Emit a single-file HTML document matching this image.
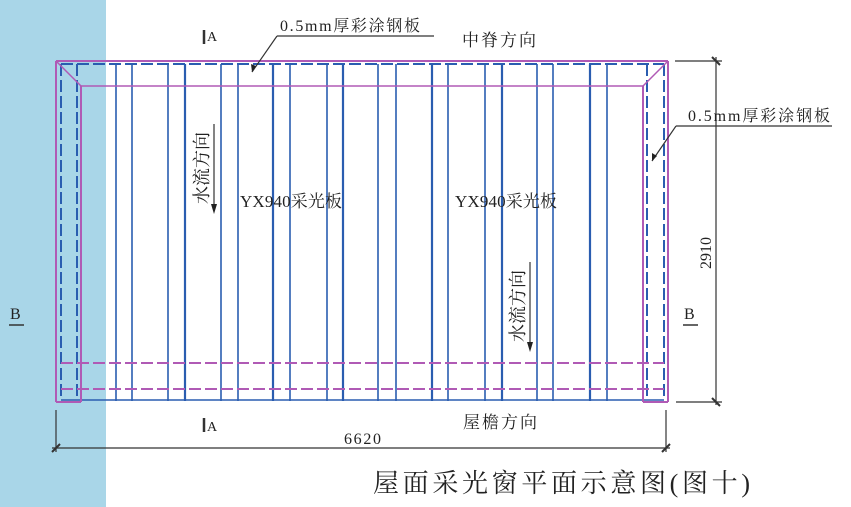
<!DOCTYPE html>
<html><head><meta charset="utf-8"><style>
html,body{margin:0;padding:0;background:#fff;}
svg{display:block;}
text{font-family:"Liberation Serif","Noto Serif CJK SC","Noto Sans CJK SC",serif;fill:#222;}
</style></head><body>
<svg width="851" height="507" viewBox="0 0 851 507" xmlns="http://www.w3.org/2000/svg">
<rect x="0" y="0" width="106" height="507" fill="#a9d6e8"/>
<g stroke="#2a5db0" stroke-width="1.6">
<line x1="116" y1="64" x2="116" y2="401"/><line x1="132" y1="64" x2="132" y2="401"/>
<line x1="168" y1="64" x2="168" y2="401"/><line x1="185" y1="64" x2="185" y2="401" stroke-width="2.2"/>
<line x1="221" y1="64" x2="221" y2="401"/><line x1="238" y1="64" x2="238" y2="401"/>
<line x1="273" y1="64" x2="273" y2="401" stroke-width="2.2"/><line x1="290" y1="64" x2="290" y2="401"/>
<line x1="327" y1="64" x2="327" y2="401"/><line x1="343" y1="64" x2="343" y2="401" stroke-width="2.2"/>
<line x1="378" y1="64" x2="378" y2="401"/><line x1="396" y1="64" x2="396" y2="401"/>
<line x1="432" y1="64" x2="432" y2="401" stroke-width="2.2"/><line x1="448" y1="64" x2="448" y2="401"/>
<line x1="485" y1="64" x2="485" y2="401"/><line x1="502" y1="64" x2="502" y2="401" stroke-width="2.2"/>
<line x1="537" y1="64" x2="537" y2="401"/><line x1="553" y1="64" x2="553" y2="401"/>
<line x1="590" y1="64" x2="590" y2="401" stroke-width="2.2"/><line x1="607" y1="64" x2="607" y2="401"/>
<line x1="61" y1="400" x2="664" y2="400"/>
</g>
<g stroke="#2a5db0" stroke-width="2" stroke-dasharray="12,4" fill="none">
<line x1="61" y1="64" x2="664" y2="64"/>
<line x1="61" y1="64" x2="61" y2="400"/><line x1="77" y1="64" x2="77" y2="400"/>
<line x1="647" y1="64" x2="647" y2="400"/><line x1="664" y1="64" x2="664" y2="400"/>
</g>
<g stroke="#b05ab5" stroke-width="2" fill="none">
<line x1="56" y1="61" x2="668" y2="61"/>
<line x1="56" y1="61" x2="56" y2="402"/><line x1="81" y1="86" x2="81" y2="402"/>
<line x1="56" y1="402" x2="81" y2="402"/>
<line x1="643" y1="86" x2="643" y2="402"/><line x1="668" y1="61" x2="668" y2="402"/>
<line x1="643" y1="402" x2="668" y2="402"/>
<line x1="81" y1="86" x2="643" y2="86" stroke-width="1.5"/>
<line x1="56" y1="61" x2="81" y2="86" stroke-width="1.5"/>
<line x1="668" y1="61" x2="643" y2="86" stroke-width="1.5"/>
<line x1="61" y1="363" x2="664" y2="363" stroke-dasharray="12,4"/>
<line x1="61" y1="389" x2="664" y2="389" stroke-dasharray="12,4"/>
</g>
<g stroke="#333" stroke-width="1.2" fill="none">
<line x1="675" y1="61" x2="722" y2="61"/>
<line x1="676" y1="402" x2="722" y2="402"/>
<line x1="716" y1="57" x2="716" y2="405"/>
<line x1="712" y1="57" x2="720" y2="65" stroke-width="2"/>
<line x1="712" y1="398" x2="720" y2="406" stroke-width="2"/>
<line x1="52" y1="448" x2="670" y2="448"/>
<line x1="56" y1="410" x2="56" y2="452"/>
<line x1="666" y1="410" x2="666" y2="452"/>
<line x1="52" y1="452" x2="60" y2="444" stroke-width="2"/>
<line x1="662" y1="452" x2="670" y2="444" stroke-width="2"/>
<line x1="277" y1="36" x2="434" y2="36"/>
<line x1="277" y1="36" x2="252" y2="72"/>
<line x1="676" y1="126" x2="832" y2="126"/>
<line x1="676" y1="126" x2="652" y2="161"/>
<line x1="214" y1="124" x2="214" y2="210"/>
<line x1="530" y1="262" x2="530" y2="348"/>
<line x1="204" y1="30" x2="204" y2="44" stroke-width="2.5"/>
<line x1="204" y1="418" x2="204" y2="432" stroke-width="2.5"/>
<line x1="9" y1="325" x2="24" y2="325" stroke-width="1.5"/>
<line x1="683" y1="325" x2="698" y2="325" stroke-width="1.5"/>
</g>
<g fill="#222">
<polygon points="252,72 251,64 256,66"/>
<polygon points="652,161 652,153 657,156"/>
<polygon points="214,214 211,204 217,204"/>
<polygon points="530,352 527,342 533,342"/>
</g>
<text x="280" y="31" font-size="16" textLength="140" lengthAdjust="spacing">0.5mm厚彩涂钢板</text>
<text x="688" y="121" font-size="16" textLength="142" lengthAdjust="spacing">0.5mm厚彩涂钢板</text>
<text x="462" y="46" font-size="17" textLength="74" lengthAdjust="spacing">中脊方向</text>
<text x="463" y="428" font-size="17" textLength="74" lengthAdjust="spacing">屋檐方向</text>
<text x="207" y="41" font-size="14">A</text>
<text x="207" y="431" font-size="14">A</text>
<text x="10" y="319" font-size="16">B</text>
<text x="684" y="319" font-size="16">B</text>
<text x="240" y="207" font-size="17" textLength="102" lengthAdjust="spacing">YX940采光板</text>
<text x="455" y="207" font-size="17" textLength="102" lengthAdjust="spacing">YX940采光板</text>
<text x="344" y="444" font-size="16" textLength="37" lengthAdjust="spacing">6620</text>
<text transform="translate(711,253) rotate(-90)" font-size="16" text-anchor="middle">2910</text>
<text transform="translate(208,168) rotate(-90)" font-size="18" text-anchor="middle">水流方向</text>
<text transform="translate(524,306) rotate(-90)" font-size="18" text-anchor="middle">水流方向</text>
<text x="373" y="492" font-size="26" textLength="377" lengthAdjust="spacing">屋面采光窗平面示意图(图十)</text>
</svg>
</body></html>
